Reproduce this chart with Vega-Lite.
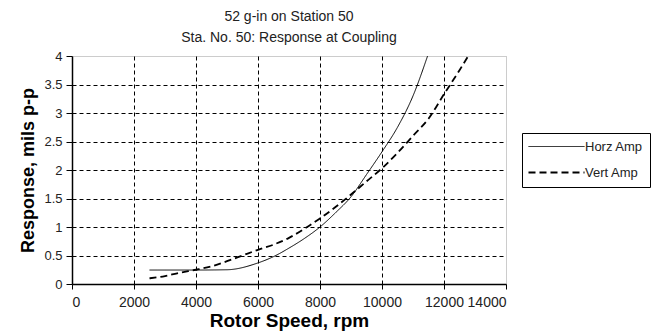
{
  "$schema": "https://vega.github.io/schema/vega-lite/v6.json",
  "width": 434,
  "height": 228,
  "autosize": {"type": "none"},
  "padding": {"left": 72, "top": 56, "right": 151, "bottom": 48},
  "background": "white",
  "config": {
    "font": "Liberation Sans",
    "view": {"stroke": "#999999", "strokeDash": [1, 1], "strokeWidth": 1}
  },
  "title": {
    "text": ["52 g-in on Station 50", "Sta. No. 50: Response at Coupling"],
    "font": "Liberation Sans",
    "fontSize": 14,
    "fontWeight": "normal",
    "color": "#222222",
    "lineHeight": 21,
    "offset": 5,
    "anchor": "middle"
  },
  "data": {
    "values": [
      {"rpm": 2500, "amp": 0.245, "series": "Horz Amp"},
      {"rpm": 3000, "amp": 0.245, "series": "Horz Amp"},
      {"rpm": 4000, "amp": 0.245, "series": "Horz Amp"},
      {"rpm": 5000, "amp": 0.25, "series": "Horz Amp"},
      {"rpm": 6000, "amp": 0.37, "series": "Horz Amp"},
      {"rpm": 6500, "amp": 0.48, "series": "Horz Amp"},
      {"rpm": 7000, "amp": 0.63, "series": "Horz Amp"},
      {"rpm": 7500, "amp": 0.8, "series": "Horz Amp"},
      {"rpm": 8000, "amp": 1.0, "series": "Horz Amp"},
      {"rpm": 8500, "amp": 1.25, "series": "Horz Amp"},
      {"rpm": 9000, "amp": 1.53, "series": "Horz Amp"},
      {"rpm": 9500, "amp": 1.92, "series": "Horz Amp"},
      {"rpm": 10000, "amp": 2.32, "series": "Horz Amp"},
      {"rpm": 10500, "amp": 2.75, "series": "Horz Amp"},
      {"rpm": 11000, "amp": 3.3, "series": "Horz Amp"},
      {"rpm": 11470, "amp": 4.0, "series": "Horz Amp"},
      {"rpm": 2500, "amp": 0.1, "series": "Vert Amp"},
      {"rpm": 3000, "amp": 0.14, "series": "Vert Amp"},
      {"rpm": 3500, "amp": 0.2, "series": "Vert Amp"},
      {"rpm": 4000, "amp": 0.25, "series": "Vert Amp"},
      {"rpm": 4500, "amp": 0.31, "series": "Vert Amp"},
      {"rpm": 5000, "amp": 0.4, "series": "Vert Amp"},
      {"rpm": 5500, "amp": 0.5, "series": "Vert Amp"},
      {"rpm": 6000, "amp": 0.6, "series": "Vert Amp"},
      {"rpm": 6500, "amp": 0.69, "series": "Vert Amp"},
      {"rpm": 7000, "amp": 0.81, "series": "Vert Amp"},
      {"rpm": 7500, "amp": 0.97, "series": "Vert Amp"},
      {"rpm": 8000, "amp": 1.15, "series": "Vert Amp"},
      {"rpm": 8500, "amp": 1.35, "series": "Vert Amp"},
      {"rpm": 9000, "amp": 1.57, "series": "Vert Amp"},
      {"rpm": 9500, "amp": 1.8, "series": "Vert Amp"},
      {"rpm": 10000, "amp": 2.03, "series": "Vert Amp"},
      {"rpm": 10500, "amp": 2.3, "series": "Vert Amp"},
      {"rpm": 11000, "amp": 2.6, "series": "Vert Amp"},
      {"rpm": 11500, "amp": 2.9, "series": "Vert Amp"},
      {"rpm": 12000, "amp": 3.33, "series": "Vert Amp"},
      {"rpm": 12500, "amp": 3.75, "series": "Vert Amp"},
      {"rpm": 12780, "amp": 4.0, "series": "Vert Amp"}
    ]
  },
  "mark": {"type": "line", "interpolate": "monotone", "color": "black", "clip": true},
  "encoding": {
    "x": {
      "field": "rpm",
      "type": "quantitative",
      "scale": {"domain": [0, 14000], "nice": false},
      "axis": {
        "title": "Rotor Speed, rpm",
        "values": [0, 2000, 4000, 6000, 8000, 10000, 12000, 14000],
        "format": "d",
        "labelFont": "Liberation Sans",
        "labelFontSize": 14,
        "labelColor": "#222222",
        "labelPadding": 6,
        "titleFont": "Liberation Sans",
        "titleFontSize": 19,
        "titleFontWeight": "bold",
        "titleColor": "black",
        "titlePadding": 2,
        "domainColor": "black",
        "domainWidth": 1.5,
        "tickColor": "black",
        "tickSize": 5,
        "grid": true,
        "gridColor": {"condition": {"test": "datum.value === 0 || datum.value === 14000", "value": "transparent"}, "value": "black"},
        "gridDash": [4, 3],
        "gridWidth": 1
      }
    },
    "y": {
      "field": "amp",
      "type": "quantitative",
      "scale": {"domain": [0, 4], "nice": false},
      "axis": {
        "title": "Response, mils p-p",
        "values": [0, 0.5, 1, 1.5, 2, 2.5, 3, 3.5, 4],
        "format": "~g",
        "labelFont": "Liberation Sans",
        "labelFontSize": 13,
        "labelColor": "#222222",
        "labelPadding": 4,
        "titleFont": "Liberation Sans",
        "titleFontSize": 18,
        "titleFontWeight": "bold",
        "titleColor": "black",
        "titlePadding": 6,
        "domainColor": "black",
        "domainWidth": 1.5,
        "tickColor": "black",
        "tickSize": 6,
        "grid": true,
        "gridColor": {"condition": {"test": "datum.value === 0 || datum.value === 4", "value": "transparent"}, "value": "black"},
        "gridDash": [4, 3],
        "gridWidth": 1
      }
    },
    "strokeDash": {
      "field": "series",
      "type": "nominal",
      "scale": {"domain": ["Horz Amp", "Vert Amp"], "range": [[1, 0], [7, 4]]},
      "legend": {
        "title": null,
        "orient": "none",
        "legendX": 450,
        "legendY": 77,
        "symbolType": "M-5.6,0H5.6",
        "symbolSize": 100,
        "symbolOffset": 21,
        "symbolStrokeColor": "black",
        "symbolStrokeWidth": 1.4,
        "labelFont": "Liberation Sans",
        "labelFontSize": 13,
        "labelColor": "#222222",
        "labelOffset": 22,
        "rowPadding": 12,
        "strokeColor": "black",
        "padding": 7,
        "fillColor": "white"
      }
    },
    "strokeWidth": {
      "field": "series",
      "type": "nominal",
      "scale": {"domain": ["Horz Amp", "Vert Amp"], "range": [1, 1.8]},
      "legend": null
    }
  }
}
